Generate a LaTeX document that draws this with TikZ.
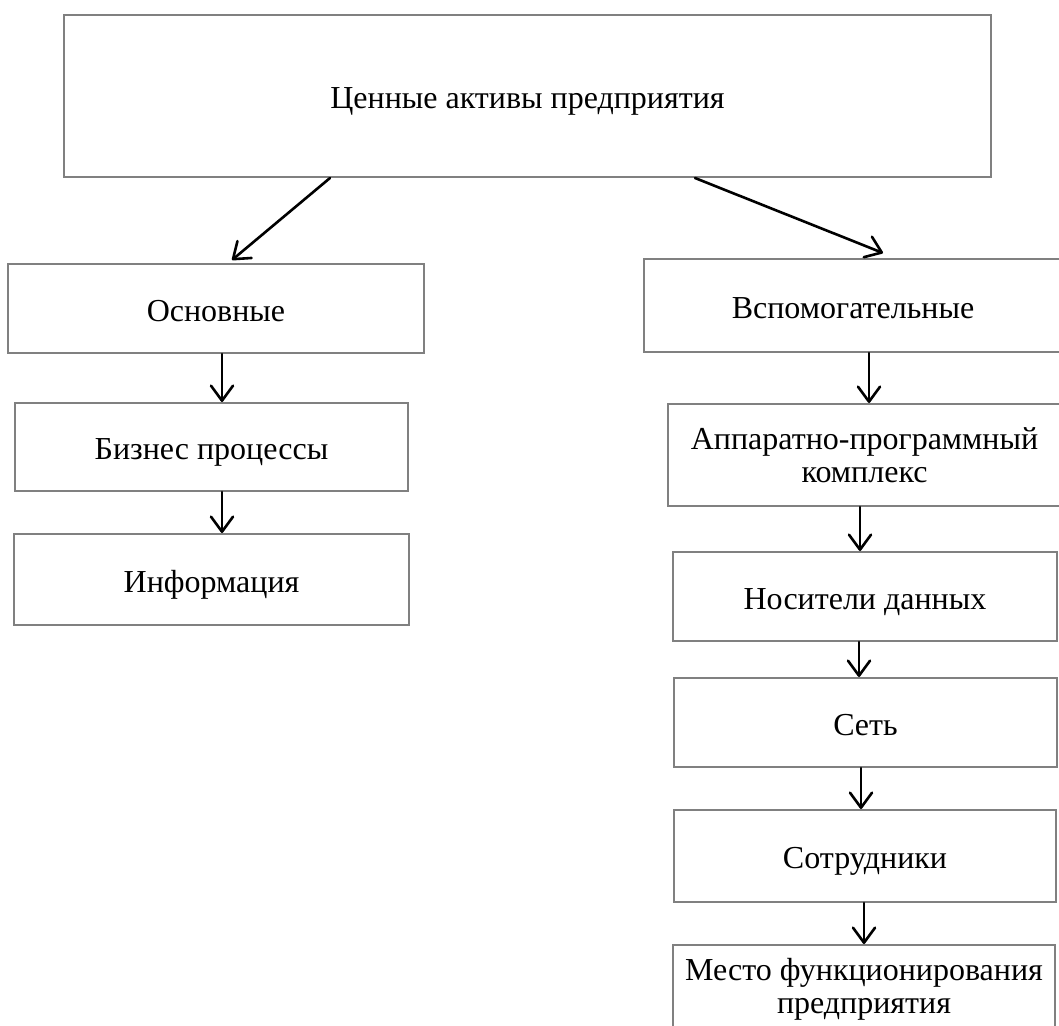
\documentclass[tikz,border=0pt]{standalone}
\usepackage{fontspec}
\setmainfont{Liberation Serif}
\usetikzlibrary{arrows.meta}

\tikzset{
  box/.style={draw=black!50, line width=2pt, rectangle, inner sep=0pt,
              align=center, font=\fontsize{32}{33}\selectfont},
  oneline/.style={text height=32pt, text depth=7pt},
  link/.style={draw=black, line width=2.6pt, line cap=round,
               -{Straight Barb[length=15pt,width=22pt,line width=2.6pt,round]}},
}

\begin{document}
\begin{tikzpicture}[x=1pt, y=-1pt]
  \useasboundingbox (0,0) rectangle (1059,1025);
  \clip (0,0) rectangle (1059,1025);

  % root
  \node[box, oneline, minimum width=927pt, minimum height=162pt] (root) at (527.5,96)
    {Ценные активы предприятия};

  % left branch
  \node[box, oneline, minimum width=416pt, minimum height=89pt] (main) at (216,308.5)
    {Основные};
  \node[box, oneline, minimum width=393pt, minimum height=88pt] (proc) at (211.5,447)
    {Бизнес процессы};
  \node[box, oneline, minimum width=395pt, minimum height=91pt] (info) at (211.5,579.5)
    {Информация};

  % right branch
  \node[box, oneline, minimum width=418pt, minimum height=93pt] (aux) at (853,305.5)
    {Вспомогательные};
  \node[box, minimum width=393pt, minimum height=102pt] (hw) at (864.5,455)
    {Аппаратно-программный\\комплекс};
  \node[box, oneline, minimum width=384pt, minimum height=89pt] (media) at (865,596.5)
    {Носители данных};
  \node[box, oneline, minimum width=383pt, minimum height=89pt] (net) at (865.5,722.5)
    {Сеть};
  \node[box, oneline, minimum width=382pt, minimum height=92pt] (staff) at (865,856)
    {Сотрудники};
  \node[box, minimum width=382pt, minimum height=88pt] (site) at (864,989)
    {Место функционирования\\предприятия};

  % connectors
  \draw[link] (root.south -| 330,0) -- ([yshift=3pt]main.north -| 232,0);
  \draw[link] (root.south -| 695,0) -- ([yshift=5pt]aux.north -| 883,0);

  \draw[link] (main.south -| 222,0) -- (proc.north -| 222,0);
  \draw[link] (proc.south -| 222,0) -- (info.north -| 222,0);

  \draw[link] (aux.south -| 869,0)   -- (hw.north -| 869,0);
  \draw[link] (hw.south -| 860,0)    -- (media.north -| 860,0);
  \draw[link] (media.south -| 859,0) -- (net.north -| 859,0);
  \draw[link] (net.south -| 861,0)   -- (staff.north -| 861,0);
  \draw[link] (staff.south -| 864,0) -- (site.north -| 864,0);
\end{tikzpicture}
\end{document}
